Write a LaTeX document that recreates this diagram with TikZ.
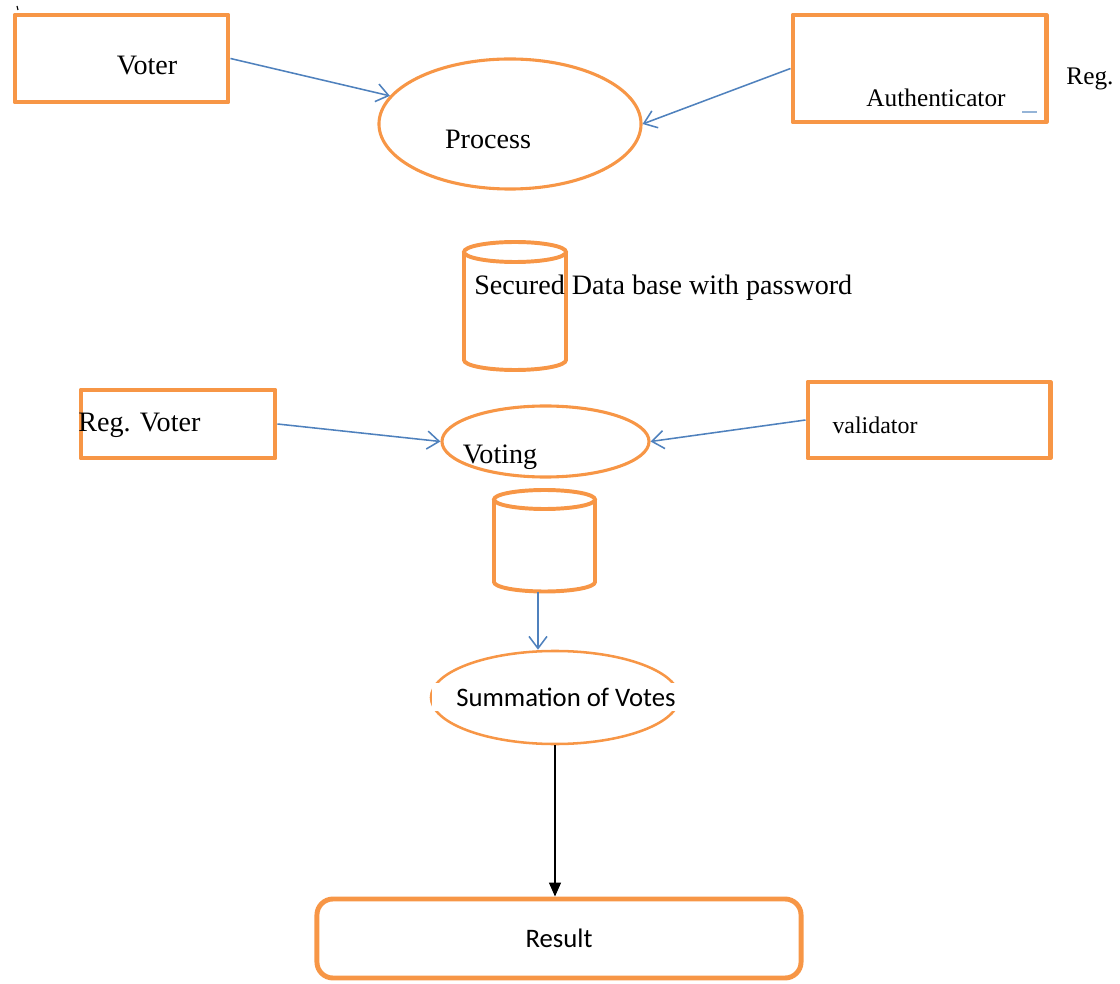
\documentclass[tikz,border=0pt]{standalone}
\usepackage{fontspec}
\setmainfont{Liberation Serif}
\newfontfamily\calibri{Carlito}
\usetikzlibrary{shapes.geometric, arrows.meta, positioning}
\definecolor{boxorange}{HTML}{F79646}
\definecolor{linkblue}{HTML}{4F81BD}

\tikzset{
  entitybox/.style={draw=boxorange, line width=3.5pt, line join=round, inner sep=0pt},
  procell/.style={draw=boxorange, ellipse, line width=2.2pt, inner sep=0pt},
  dbstyle/.style={draw=boxorange, line width=2.8pt},
  flow/.style={draw=linkblue, line width=1.1pt, -{Straight Barb[length=3mm,width=4.5mm]}},
  lbl/.style={font=\fontsize{20}{24}\selectfont, inner sep=0pt},
}

\begin{document}
\begin{tikzpicture}[x=0.025cm, y=-0.025cm]
  \useasboundingbox (0,0) rectangle (1120,984);
  % stray tick top left
  \draw[line width=0.8pt] (17,6) -- (18,10);
  % first stage: voter, authenticator and the process
  \node[entitybox, minimum width=5.325cm, minimum height=2.175cm] (voterbox) at (121.5,58.5) {};
  \node[entitybox, minimum width=6.325cm, minimum height=2.675cm] (authbox) at (919.5,68.5) {};
  \node[procell, minimum width=6.55cm, minimum height=3.25cm] (process) at (510,124) {};
  \node[lbl] (voterlbl) at (147,66) {Voter};
  \node[lbl, font=\fontsize{18}{22}\selectfont] (authlbl) at (936,98) {Authenticator};
  \node[lbl, font=\fontsize{18}{22}\selectfont] (reglbl) at (1090,79) {Reg.};
  \node[lbl] (processlbl) at (488,139) {Process};
  \draw[linkblue!60, line width=0.8pt] (1022,112) -- (1037,112);
  \draw[flow] (voterbox.east) -- (process);
  \draw[flow] (authbox.west) -- (process.east);
  % secured data base
  \draw[dbstyle] (515,252) ellipse [x radius=51, y radius=10];
  \draw[dbstyle] (464,252) -- (464,360) arc[start angle=180, end angle=0, x radius=51, y radius=10] -- (566,252);
  \node[lbl, anchor=west] (dblbl) at (474,288) {Secured Data base with password};
  % second stage: voting
  \node[entitybox, minimum width=4.85cm, minimum height=1.7cm] (regvoterbox) at (178,424) {};
  \node[entitybox, minimum width=6.05cm, minimum height=1.9cm] (validatorbox) at (929,420) {};
  \node[procell, minimum width=5.175cm, minimum height=1.775cm] (voting) at (545.5,441.5) {};
  \node[lbl, anchor=west] (regvoterlbl) at (78,425) {Reg. Voter};
  \node[lbl, font=\fontsize{17}{21}\selectfont] (validatorlbl) at (875,425) {validator};
  \node[lbl] (votinglbl) at (500,457) {Voting};
  \draw[flow] (regvoterbox.east) -- (voting.west);
  \draw[flow] (validatorbox.west) -- (voting.east);
  % vote store
  \draw[dbstyle] (544.5,499.5) ellipse [x radius=50.5, y radius=9.5];
  \draw[dbstyle] (494,499.5) -- (494,582) arc[start angle=180, end angle=0, x radius=50.5, y radius=9.5] -- (595,499.5);
  \coordinate (tallybase) at (538,591.5);
  % counting and result
  \node[procell, line width=1.8pt, minimum width=6.2cm, minimum height=2.325cm] (summation) at (555,697.5) {};
  \node[font=\calibri\fontsize{19}{23}\selectfont, fill=white, inner xsep=0.6cm, inner ysep=0.12cm] (sumlbl) at (566,697) {Summation of Votes};
  \draw[flow] (tallybase) -- (tallybase |- summation.north);
  \node[entitybox, rounded corners=0.4cm, minimum width=12.1cm, minimum height=1.975cm,
        font=\calibri\fontsize{19}{23}\selectfont] (resultbox) at (559,938.5) {Result};
  \draw[line width=1pt, -{Triangle[length=3.5mm,width=3mm]}] (summation.south) -- (summation.south |- resultbox.north);
\end{tikzpicture}
\end{document}
